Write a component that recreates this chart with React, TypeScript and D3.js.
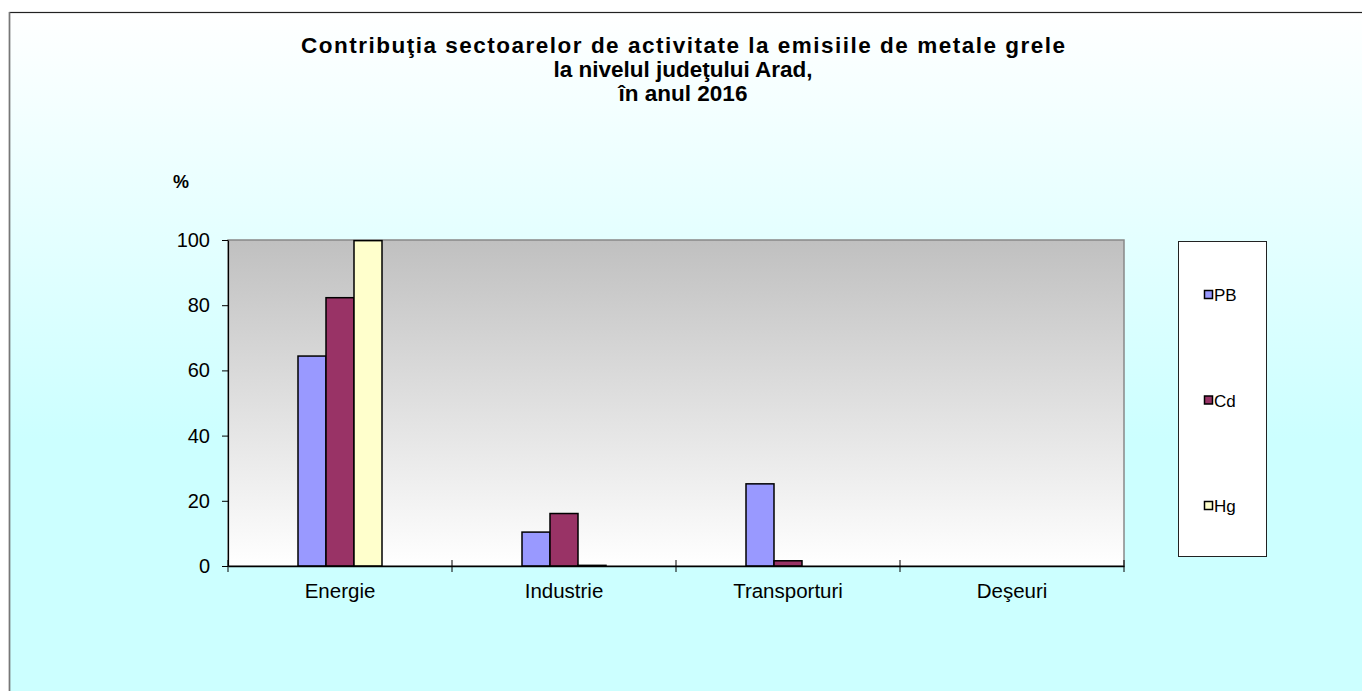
import * as d3 from "d3";
import { useEffect, useRef } from "react";

const categories = ["Energie", "Industrie", "Transporturi", "Deşeuri"];
const seriesNames = ["PB", "Cd", "Hg"];
const pbValues = [64.4, 10.4, 25.2, 0];
const cdValues = [82.3, 16.1, 1.6, 0];
const hgValues = [99.8, 0.2, 0, 0];
const yTicks = [0, 20, 40, 60, 80, 100];
const titleLines = [
  "Contribuţia sectoarelor de activitate la emisiile de metale grele",
  "la nivelul judeţului Arad,",
  "în anul 2016",
];
const colors = ["#9999FF", "#993366", "#FFFFCC"];

const App = () => {
  const ref = useRef<SVGSVGElement | null>(null);

  useEffect(() => {
    const W = 1362, H = 691;
    const plot = { left: 228, right: 1124, top: 240, bottom: 566 };
    const font = "Liberation Sans, Arial, sans-serif";

    const svg = d3.select(ref.current);
    svg.selectAll("*").remove();

    const defs = svg.append("defs");
    const bg = defs.append("linearGradient").attr("id", "bgGrad")
      .attr("x1", 0).attr("y1", 0).attr("x2", 0).attr("y2", 1);
    bg.append("stop").attr("offset", "0").attr("stop-color", "#FFFFFF");
    bg.append("stop").attr("offset", "0.6").attr("stop-color", "#CCFFFF");
    bg.append("stop").attr("offset", "1").attr("stop-color", "#CCFFFF");

    const pg = defs.append("linearGradient").attr("id", "plotGrad")
      .attr("x1", 0).attr("y1", 0).attr("x2", 0).attr("y2", 1);
    pg.append("stop").attr("offset", "0").attr("stop-color", "#C0C0C0");
    pg.append("stop").attr("offset", "1").attr("stop-color", "#FFFFFF");

    svg.append("rect").attr("width", W).attr("height", H).attr("fill", "#FFFFFF");
    svg.append("rect")
      .attr("x", 9.5).attr("y", 12.5).attr("width", W + 20).attr("height", H + 20)
      .attr("fill", "url(#bgGrad)").attr("stroke", "#222").attr("stroke-width", 1.2);
    svg.append("line").attr("x1", 9.5).attr("x2", 9.5).attr("y1", 12).attr("y2", H)
      .attr("stroke", "#777").attr("stroke-width", 1.5);

    // title (first line is spread wider in the original)
    titleLines.forEach((t, i) => {
      const tx = svg.append("text")
        .attr("x", 683).attr("y", 53 + i * 24)
        .attr("text-anchor", "middle")
        .attr("font-family", font)
        .attr("font-weight", "bold")
        .attr("font-size", 22.5)
        .attr("fill", "#000")
        .text(t);
      if (i === 0) tx.attr("textLength", 764).attr("lengthAdjust", "spacing");
    });

    // plot area
    svg.append("rect")
      .attr("x", plot.left).attr("y", plot.top)
      .attr("width", plot.right - plot.left).attr("height", plot.bottom - plot.top)
      .attr("fill", "url(#plotGrad)").attr("stroke", "#888").attr("stroke-width", 1.5);

    const x = d3.scaleBand().domain(categories).range([plot.left, plot.right]).padding(0);
    const xs = d3.scaleBand().domain(seriesNames)
      .range([x.bandwidth() * 5 / 16, x.bandwidth() * 11 / 16]).padding(0);
    const y = d3.scaleLinear().domain([0, 100]).range([plot.bottom, plot.top]);

    const data = [pbValues, cdValues, hgValues];
    seriesNames.forEach((s, si) => {
      svg.append("g").selectAll("rect")
        .data(categories.map((c, ci) => ({ c, v: data[si][ci] })))
        .enter().append("rect")
        .attr("x", d => (x(d.c) as number) + (xs(s) as number))
        .attr("y", d => y(d.v))
        .attr("width", xs.bandwidth())
        .attr("height", d => y(0) - y(d.v))
        .attr("fill", colors[si])
        .attr("stroke", "#000")
        .attr("stroke-width", 1.5);
    });

    // y axis
    const yAxis = svg.append("g")
      .attr("transform", `translate(${plot.left},0)`)
      .call(d3.axisLeft(y).tickValues(yTicks).tickSize(6).tickPadding(12).tickSizeOuter(0));
    yAxis.select(".domain").attr("stroke", "#000").attr("stroke-width", 1.2);
    yAxis.selectAll("line").attr("stroke", "#000");
    yAxis.selectAll("text").attr("font-family", font).attr("font-size", 20).attr("fill", "#000");

    // x axis
    const xAxis = svg.append("g")
      .attr("transform", `translate(0,${plot.bottom})`)
      .call(d3.axisBottom(x).tickSize(0).tickPadding(17).tickSizeOuter(0));
    xAxis.select(".domain").attr("stroke", "#000").attr("stroke-width", 1.5);
    xAxis.selectAll("text").attr("font-family", font).attr("font-size", 20.5).attr("fill", "#000");
    svg.append("g").selectAll("line")
      .data(categories.map(c => x(c) as number).concat([plot.right]))
      .enter().append("line")
      .attr("x1", d => d).attr("x2", d => d)
      .attr("y1", plot.bottom - 6).attr("y2", plot.bottom + 6)
      .attr("stroke", "#000").attr("stroke-width", 1);

    svg.append("text")
      .attr("x", 181).attr("y", 188)
      .attr("text-anchor", "middle")
      .attr("font-family", font).attr("font-weight", "bold").attr("font-size", 18)
      .text("%");

    // legend
    const lg = svg.append("g");
    lg.append("rect")
      .attr("x", 1178.5).attr("y", 241.5).attr("width", 88).attr("height", 315)
      .attr("fill", "#FFFFFF").attr("stroke", "#222").attr("stroke-width", 1);
    const ly = d3.scalePoint().domain(seriesNames).range([295, 506]);
    seriesNames.forEach((s, i) => {
      lg.append("rect")
        .attr("x", 1204.5).attr("y", (ly(s) as number) - 4.5)
        .attr("width", 8).attr("height", 8)
        .attr("fill", colors[i]).attr("stroke", "#000").attr("stroke-width", 1.5);
      lg.append("text")
        .attr("x", 1214).attr("y", (ly(s) as number) + 6)
        .attr("font-family", font).attr("font-size", 17)
        .text(s);
    });
  }, []);

  return (
    <svg
      ref={ref}
      width={1362}
      height={691}
      style={{ position: "absolute", left: 0, top: 0 }}
    />
  );
};

export default App;
